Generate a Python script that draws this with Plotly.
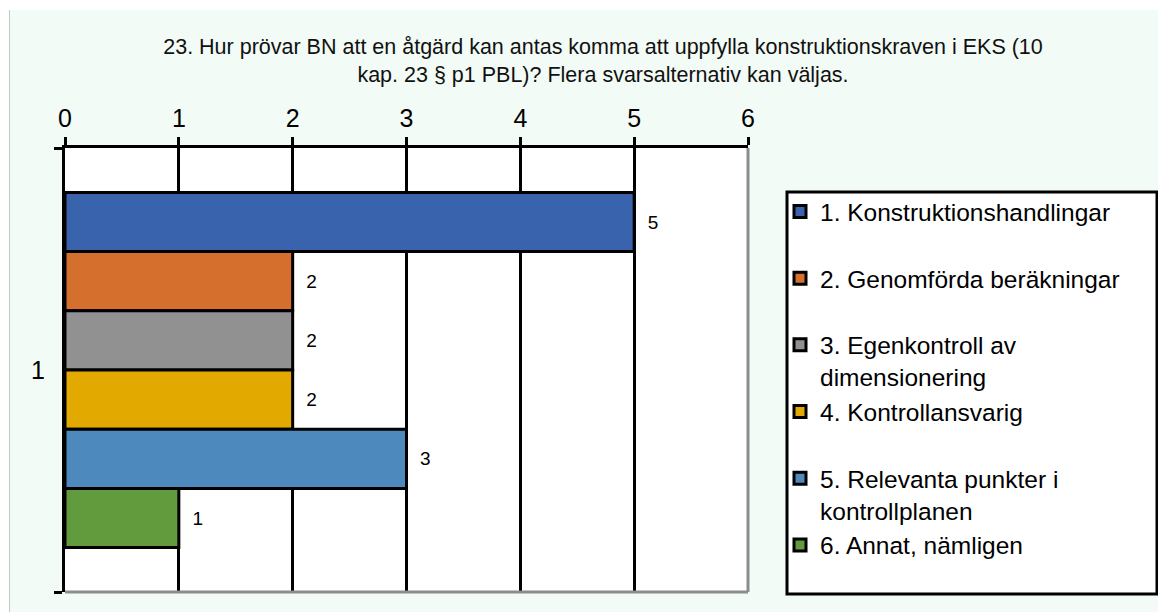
import plotly.graph_objects as go

# ---- data ----
categories = ["1"]
series_names = [
    "1. Konstruktionshandlingar",
    "2. Genomförda beräkningar",
    "3. Egenkontroll av<br>dimensionering",
    "4. Kontrollansvarig",
    "5. Relevanta punkter i<br>kontrollplanen",
    "6. Annat, nämligen",
]
series_values = [5, 2, 2, 2, 3, 1]
series_colors = ["#3A63AD", "#D56F2D", "#919191", "#E2AA00", "#4E89BD", "#629B3E"]
x_ticks = [0, 1, 2, 3, 4, 5, 6]
title_text = ("23. Hur prövar BN att en åtgärd kan antas komma att uppfylla konstruktionskraven i EKS (10"
              "<br>kap. 23 § p1 PBL)? Flera svarsalternativ kan väljas.")

# ---- geometry ----
W, H = 1158, 612
ML, MR, MT, MB = 65, 410, 148, 20
PW, PH = W - ML - MR, H - MT - MB


def px_x(p):
    return (p - ML) / PW


def px_y(p):
    return 1 - (p - MT) / PH


FONT = "Liberation Sans, Arial, sans-serif"

fig = go.Figure()
for name, val, col in zip(series_names, series_values, series_colors):
    label = name if "<br>" in name else name + "<br> "
    fig.add_trace(go.Bar(
        y=categories, x=[val], name=label, orientation="h",
        marker=dict(color=col, line=dict(color="black", width=3)),
        text=[val], texttemplate="\u00a0\u00a0%{x}", textposition="outside",
        textfont=dict(size=19, color="black", family=FONT),
        cliponaxis=False,
    ))

shapes = [
    # white strips outside the chart area
    dict(type="rect", xref="paper", yref="paper", x0=px_x(-5), x1=px_x(W + 5), y0=px_y(10), y1=px_y(-5),
         fillcolor="white", line=dict(width=0), layer="below"),
    dict(type="rect", xref="paper", yref="paper", x0=px_x(-5), x1=px_x(9), y0=px_y(H + 5), y1=px_y(-5),
         fillcolor="white", line=dict(width=0), layer="below"),
    dict(type="line", xref="paper", yref="paper", x0=px_x(9.5), x1=px_x(9.5), y0=px_y(10), y1=px_y(H + 5),
         line=dict(color="#C4C9C6", width=1), layer="below"),
    # legend box
    dict(type="rect", xref="paper", yref="paper", x0=px_x(787), x1=px_x(1157), y0=px_y(594), y1=px_y(192),
         fillcolor="white", line=dict(color="black", width=3), layer="below"),
    # grey right and bottom plot border
    dict(type="line", xref="paper", yref="paper", x0=1, x1=1, y0=0, y1=1,
         line=dict(color="#8C8C8C", width=3), layer="above"),
    dict(type="line", xref="paper", yref="paper", x0=0, x1=1, y0=0, y1=0,
         line=dict(color="#8C8C8C", width=3), layer="above"),
]

fig.update_layout(
    width=W, height=H,
    margin=dict(l=ML, r=MR, t=MT, b=MB, pad=0, autoexpand=False),
    paper_bgcolor="#F3FBF6", plot_bgcolor="white",
    font=dict(family=FONT, color="black"),
    barmode="group", bargap=0.2, bargroupgap=0,
    showlegend=True,
    title=dict(text=title_text, x=px_x(603), xanchor="center", xref="paper",
               y=1 - 54 / H, yanchor="middle", yref="container",
               font=dict(size=21.5, color="#111111", family=FONT)),
    xaxis=dict(side="top", range=[0, 6], tickvals=x_ticks, showgrid=True, gridcolor="black", gridwidth=3,
               showline=True, linecolor="black", linewidth=3, ticks="outside", ticklen=8, tickwidth=3,
               tickcolor="black", tickfont=dict(size=25, family=FONT), zeroline=False, fixedrange=True),
    yaxis=dict(type="category", autorange="reversed", showline=True, linecolor="black", linewidth=3,
               ticks="outside", tickson="boundaries", ticklen=8, tickwidth=3, tickcolor="black",
               tickfont=dict(size=25, family=FONT), showgrid=False, ticklabelstandoff=12, fixedrange=True),
    legend=dict(x=px_x(780), y=px_y(189), xanchor="left", yanchor="top", bgcolor="rgba(0,0,0,0)",
                borderwidth=0, font=dict(size=24.5, family=FONT, color="black"), valign="top",
                traceorder="normal", maxheight=600),
    shapes=shapes,
)

fig.write_html("out.html", config={"displayModeBar": False},
               post_script="document.body.style.margin='0';document.body.style.overflow='hidden';")
